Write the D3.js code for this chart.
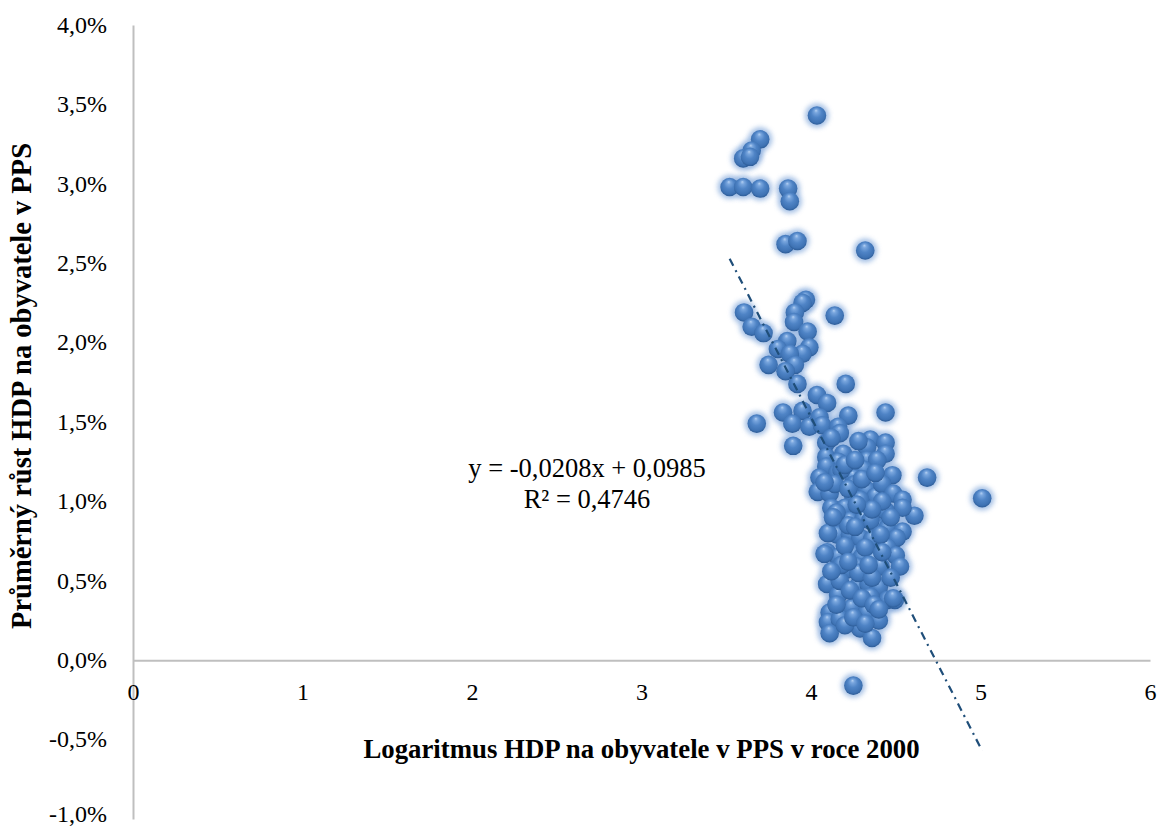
<!DOCTYPE html>
<html><head><meta charset="utf-8">
<script src="https://cdn.jsdelivr.net/npm/d3@7"></script>
<style>
body{margin:0;background:#fff;}
svg{display:block;}
text{font-family:"Liberation Serif","Times New Roman",serif;fill:#000;}
</style></head>
<body>
<svg id="chart" width="1158" height="830"></svg>
<script>
// log GDP per capita in PPS (2000)
const logGdp = [4.035,3.70,3.65,3.60,3.64,3.52,3.60,3.70,3.865,3.875,3.85,3.92,4.32,
3.605,3.65,3.72,3.97,3.95,3.905,3.90,4.14,3.98,3.86,3.805,3.99,3.95,3.875,3.905,3.75,3.85,
3.92,4.205,4.035,4.095,3.835,3.95,3.68,3.89,3.99,4.05,4.065,4.22,4.44,4.16,4.17,3.895,4.09,
4.35,4.44,4.33,4.44,4.09,4.19,4.16,4.09,4.33,4.39,4.31,4.48,4.25,4.155,4.05,4.685,5.01,
4.18,4.04,4.11,4.14,4.26,4.25,4.33,4.38,4.42,4.485,4.54,4.61,4.54,4.44,4.12,4.20,4.31,
4.14,4.23,4.31,4.39,4.45,4.54,4.505,4.155,4.23,4.29,4.36,4.095,4.16,4.25,4.30,4.27,4.37,
4.45,4.50,4.525,4.41,4.21,4.095,4.16,4.28,4.34,4.40,4.45,4.495,4.24,4.33,4.11,4.10,4.17,
4.11,4.29,4.36,4.25,4.485,4.35,4.40,4.08,
4.20,4.26,4.29,4.22,4.35,4.41,4.20,4.32,4.17,4.23,4.30,4.37,4.20,4.12,4.28,4.10,4.42,4.47,
4.15,4.25,4.32,4.40,4.18,4.28,4.36,4.42,4.12,4.22,4.34,4.15,4.26,4.36,4.47,4.08,4.22,4.30,4.38,4.13,4.27];
// average growth of GDP per capita in PPS
const growth = [0.0343,0.0328,0.0321,0.0316,0.0317,0.0298,0.0298,0.0297,0.0297,0.0289,0.0262,0.0264,0.0258,
0.0219,0.0210,0.0206,0.0227,0.0225,0.0219,0.0213,0.0217,0.0207,0.0201,0.0196,0.0197,0.0193,0.0193,0.0186,0.0186,0.0182,
0.0174,0.0174,0.0167,0.0162,0.0156,0.0157,0.0149,0.0149,0.0147,0.0153,0.0148,0.0154,0.0156,0.0147,0.0143,0.0135,0.0137,
0.0139,0.0137,0.0134,0.0130,0.0128,0.0130,0.0125,0.0122,0.0126,0.0126,0.0120,0.01165,0.0115,0.0118,0.0115,0.0115,0.0102,
0.0120,0.0106,0.0105,0.0111,0.0111,0.0103,0.0107,0.0103,0.0111,0.0105,0.0101,0.0091,0.0096,0.0094,0.0096,0.0096,0.0094,
0.0087,0.0088,0.0089,0.0084,0.0083,0.0081,0.0077,0.0079,0.0079,0.0077,0.0076,0.0068,0.0065,0.0067,0.0065,0.0059,0.0063,
0.0071,0.0066,0.0059,0.0059,0.0057,0.0048,0.0041,0.0047,0.0048,0.0046,0.0038,0.0038,0.0033,0.0030,0.0030,0.0024,0.0026,
0.0017,0.0020,0.0014,-0.0016,0.0039,0.0040,0.0025,0.0067,
0.0123,0.0126,0.0101,0.0085,0.0088,0.0079,0.0072,0.0071,0.0050,0.0044,0.0039,0.0035,0.0022,0.0140,0.0138,0.0080,0.0100,0.0052,
0.0035,0.0027,0.0023,0.0032,0.0060,0.0055,0.0052,0.0068,0.0056,0.0062,0.0060,0.0093,0.0084,0.0095,0.0090,0.0112,0.0108,0.0114,0.0118,0.0090,0.0098];

const xTicks = [0,1,2,3,4,5,6];
const yTicks = [-0.01,-0.005,0,0.005,0.01,0.015,0.02,0.025,0.03,0.035,0.04];
const trendSlope = -0.0208, trendIntercept = 0.0985;
const equationLines = ["y = -0,0208x + 0,0985", "R² = 0,4746"];
const xTitle = "Logaritmus HDP na obyvatele v PPS v roce 2000";
const yTitle = "Průměrný růst HDP na obyvatele v PPS";

const points = logGdp.map((v,i)=>({x:v,y:growth[i]}));
const svg = d3.select("#chart");
const x = d3.scaleLinear().domain([0,6]).range([133,1150]);
const y = d3.scaleLinear().domain([-0.01,0.04]).range([819,25]);
const fmt = d => (d*100).toFixed(1).replace(".",",").replace("-0,0","0,0") + "%";

const defs = svg.append("defs");
const grad = defs.append("radialGradient").attr("id","ball")
  .attr("cx","50%").attr("cy","45%").attr("r","55%").attr("fx","45%").attr("fy","22%");
[[0,"#b4d0f2"],[0.18,"#79a6de"],[0.5,"#4f84c6"],[0.85,"#3e72b3"],[1,"#2c5b96"]]
  .forEach(([o,c])=>grad.append("stop").attr("offset",o).attr("stop-color",c));
defs.append("filter").attr("id","glow").attr("x","-50%").attr("y","-50%").attr("width","200%").attr("height","200%")
  .append("feGaussianBlur").attr("stdDeviation",2.8);

// axes
const yAxis = svg.append("g").attr("transform",`translate(${x(0)},0)`)
  .call(d3.axisLeft(y).tickValues(yTicks).tickFormat(fmt).tickSize(0).tickPadding(26));
const xAxis = svg.append("g").attr("transform",`translate(0,${y(0)})`)
  .call(d3.axisBottom(x).tickValues(xTicks).tickFormat(d3.format("d")).tickSize(0).tickPadding(23));
[yAxis,xAxis].forEach(g=>{
  g.select(".domain").attr("stroke","#bfbfbf").attr("stroke-width",2);
  g.selectAll("text").attr("font-family","Liberation Serif, serif").attr("font-size",24).attr("fill","#000");
});
yAxis.selectAll("text").attr("dy",d=>d===yTicks[0]?"0.12em":"0.3em");

// glow layer
svg.append("g").selectAll("circle").data(points).join("circle")
  .attr("cx",d=>x(d.x)).attr("cy",d=>y(d.y)).attr("r",12)
  .attr("fill","#8fb1df").attr("opacity",0.8).attr("filter","url(#glow)");
// balls
svg.append("g").selectAll("circle").data(points).join("circle")
  .attr("cx",d=>x(d.x)).attr("cy",d=>y(d.y)).attr("r",9.3)
  .attr("fill","url(#ball)");

// trend line
const xs = d3.extent(points,d=>d.x);
svg.append("line")
  .attr("x1",x(xs[0])).attr("y1",y(trendSlope*xs[0]+trendIntercept))
  .attr("x2",x(xs[1])).attr("y2",y(trendSlope*xs[1]+trendIntercept))
  .attr("stroke","#1f4e79").attr("stroke-width",2.2).attr("stroke-dasharray","8,5,2,5");

// equation
svg.append("text").attr("x",587).attr("y",477).attr("text-anchor","middle").attr("font-size",26.5)
  .selectAll("tspan").data(equationLines).join("tspan")
  .attr("x",587).attr("dy",(d,i)=>i?31:0).text(d=>d);

// titles
svg.append("text").attr("x",(x(0)+x(6))/2).attr("y",758).attr("text-anchor","middle")
  .attr("font-size",26.8).attr("font-weight","bold").text(xTitle);
svg.append("text").attr("transform","translate(31,386) rotate(-90)").attr("text-anchor","middle")
  .attr("font-size",28.5).attr("font-weight","bold").text(yTitle);
</script>
</body></html>
